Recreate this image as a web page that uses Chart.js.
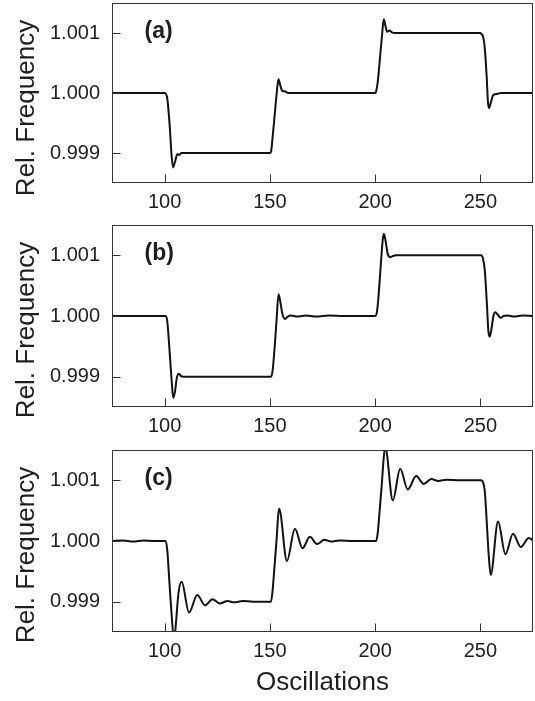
<!DOCTYPE html>
<html>
<head>
<meta charset="utf-8">
<script src="https://cdn.jsdelivr.net/npm/chart.js@4/dist/chart.umd.min.js"></script>
<style>
  html, body { margin: 0; padding: 0; background: #fff; width: 535px; height: 701px; overflow: hidden; }
  canvas { position: absolute; left: 0; }
</style>
</head>
<body>
<canvas id="ca" width="535" height="215" style="top:0px"></canvas>
<canvas id="cb" width="535" height="222" style="top:215px"></canvas>
<canvas id="cc" width="535" height="264" style="top:437px"></canvas>
<script>
// ---- data ----
const xTickLabels = ['100', '150', '200', '250'];
const yTickLabels = ['0.999', '1.000', '1.001'];
const panelLabels = ['(a)', '(b)', '(c)'];
const yTitle = 'Rel. Frequency';
const xTitle = 'Oscillations';

const xA = [75, 100, 100.5, 101.3, 102.4, 103.3, 104, 104.9, 106, 107, 108, 110, 150, 150.6, 151.4, 152.4, 153.4, 154.1, 155, 156, 157, 158.5, 160, 200, 200.5, 201.3, 202.3, 203.3, 204.1, 204.9, 205.7, 206.8, 208, 209.5, 250, 250.5, 251.2, 252, 253, 253.6, 254.1, 254.9, 256, 257.2, 258.5, 260, 275];
const yA = [1.0, 1.0, 0.99999, 0.9999, 0.99946, 0.99896, 0.99876, 0.99885, 0.99898, 0.99897, 0.999, 0.999, 0.999, 0.99903, 0.9993, 0.99968, 1.00005, 1.00023, 1.00012, 1.00003, 1.00003, 1.0, 1.0, 1.0, 1.00003, 1.0002, 1.00058, 1.00097, 1.00123, 1.00112, 1.00102, 1.00104, 1.00101, 1.001, 1.001, 1.00098, 1.00095, 1.00078, 1.00027, 0.99985, 0.99975, 0.99983, 0.99996, 0.99998, 0.99999, 1.0, 1.0];

const xB = [75, 100.5, 101.3, 102.4, 103.3, 104.1, 104.9, 105.8, 106.8, 107.8, 109, 150.5, 151.3, 152.3, 153.3, 154.1, 154.9, 155.9, 157.2, 158.5, 160, 163, 167, 172, 178, 185, 200.2, 201, 202, 203, 203.7, 204.2, 205, 206, 207.3, 208.5, 210, 250.3, 251.2, 252.1, 253.1, 253.8, 254.4, 255.2, 256.2, 257.1, 258.3, 259.7, 261, 263, 266, 270, 275];
const yB = [1.0, 1.0, 0.9999, 0.9994, 0.99895, 0.99865, 0.99875, 0.99898, 0.99905, 0.99901, 0.999, 0.999, 0.9991, 0.9995, 1.0, 1.00036, 1.00025, 1.00004, 0.99995, 0.99999, 1.00001, 0.99999, 1.00001, 0.99999, 1.00001, 1.0, 1.0, 1.0001, 1.0005, 1.001, 1.00128, 1.00135, 1.00123, 1.00102, 1.00097, 1.00099, 1.001, 1.001, 1.00095, 1.00075, 1.0002, 0.99975, 0.99966, 0.99977, 1.0, 1.00006, 1.00002, 0.99997, 1.0, 1.00001, 0.99999, 1.00001, 1.0];

const xC = [75, 80, 85, 90, 95, 100.5, 101.3, 102.4, 103.4, 104.5, 105.5, 106.6, 108.1, 111.6, 115.5, 119.2, 122.7, 126.2, 129.9, 133, 137, 142, 150.5, 151.2, 152.2, 153.2, 153.9, 154.4, 158.1, 161.9, 165.5, 169, 172.4, 175.9, 179, 183, 190, 200.5, 201.2, 202.2, 203.2, 204.1, 204.8, 208.4, 211.9, 215.5, 219.5, 223.1, 226.7, 230, 234, 240, 250.3, 251.2, 252.1, 253.1, 254, 254.9, 258.4, 261.9, 265.5, 269.2, 273, 275];
const yC = [1.0, 1.00001, 0.99999, 1.00001, 1.0, 1.0, 0.99983, 0.99925, 0.99875, 0.99835, 0.9987, 0.99915, 0.99933, 0.99882, 0.99911, 0.99894, 0.99904, 0.99897, 0.99901, 0.99899, 0.99901, 0.999, 0.999, 0.99915, 0.99958, 1.00003, 1.0004, 1.00053, 0.99967, 1.0002, 0.99988, 1.00007, 0.99995, 1.00002, 0.99999, 1.00001, 1.0, 1.0, 1.00012, 1.00052, 1.00095, 1.00138, 1.00155, 1.00067, 1.00119, 1.00085, 1.00107, 1.00094, 1.00102, 1.00099, 1.00101, 1.001, 1.001, 1.00097, 1.00082, 1.00027, 0.99975, 0.99944, 1.00032, 0.99978, 1.00012, 0.9999, 1.00005, 1.00001];

// ---- styling ----
const FONT = '"Liberation Sans", Arial, Helvetica, sans-serif';
const INK = '#1e1e1e';

function matchLabel(list, v) {
  const f = list.find(l => Math.abs(parseFloat(l) - v) < 1e-7);
  return f === undefined ? null : f;
}

const deco = {
  id: 'deco',
  afterDraw(chart, args, opts) {
    const { ctx, chartArea: a, scales: { x, y } } = chart;
    ctx.save();
    ctx.strokeStyle = '#333';
    ctx.lineWidth = 1;
    const L = Math.round(a.left) + 0.5, T = Math.round(a.top) + 0.5;
    const R = Math.round(a.right) - 0.5, B = Math.round(a.bottom) - 0.5;
    ctx.strokeRect(L, T, R - L, B - T);
    ctx.beginPath();
    x.ticks.forEach(t => {
      if (t.value <= x.min || t.value >= x.max) return;
      const px = Math.round(x.getPixelForValue(t.value)) + 0.5;
      const len = t.label ? 8 : 4;
      ctx.moveTo(px, B); ctx.lineTo(px, B - len);
    });
    y.ticks.forEach(t => {
      if (t.value <= y.min + 1e-9 || t.value >= y.max - 1e-9) return;
      const py = Math.round(y.getPixelForValue(t.value)) + 0.5;
      const len = t.label ? 8 : 4;
      ctx.moveTo(L, py); ctx.lineTo(L + len, py);
    });
    ctx.stroke();

    ctx.fillStyle = INK;
    ctx.textBaseline = 'alphabetic';
    ctx.textAlign = 'left';
    ctx.font = 'bold 23px ' + FONT;
    ctx.fillText(opts.label, a.left + 32.5, a.top + 34.5);

    ctx.font = '26px ' + FONT;
    ctx.save();
    ctx.translate(34, a.top + 105);
    ctx.rotate(-Math.PI / 2);
    ctx.textAlign = 'center';
    ctx.fillText(yTitle, 0, 0);
    ctx.restore();

    if (opts.showXTitle) {
      ctx.textAlign = 'center';
      ctx.fillText(xTitle, (a.left + a.right) / 2, a.bottom + 58);
    }
    ctx.restore();
  }
};

function makePanel(id, xs, ys, label, padTop, xAxisH, showXTitle) {
  const pts = xs.map((v, i) => ({ x: v, y: ys[i] }));
  return new Chart(document.getElementById(id), {
    type: 'line',
    data: {
      datasets: [{
        data: pts,
        borderColor: '#111',
        borderWidth: 2,
        pointRadius: 0,
        fill: false,
        cubicInterpolationMode: 'monotone',
        clip: 0
      }]
    },
    options: {
      responsive: false,
      animation: false,
      devicePixelRatio: 1,
      layout: { padding: { top: padTop, right: 2, left: 0, bottom: 0 } },
      plugins: {
        legend: { display: false },
        tooltip: { enabled: false },
        deco: { label: label, showXTitle: showXTitle }
      },
      scales: {
        x: {
          type: 'linear',
          min: 75, max: 275,
          grid: { display: false, drawTicks: false },
          border: { display: false },
          ticks: {
            stepSize: 25, autoSkip: false, maxRotation: 0, padding: 7,
            color: INK, font: { family: FONT, size: 20 },
            callback: v => matchLabel(xTickLabels, v)
          },
          afterFit: s => { s.height = xAxisH; s.paddingLeft = 0; s.paddingRight = 0; }
        },
        y: {
          type: 'linear',
          min: 0.9985, max: 1.0015,
          grid: { display: false, drawTicks: false },
          border: { display: false },
          ticks: {
            stepSize: 0.0005, autoSkip: false, padding: 12,
            color: INK, font: { family: FONT, size: 20 },
            callback: v => matchLabel(yTickLabels, v)
          },
          afterFit: s => { s.width = 112; s.paddingTop = 0; s.paddingBottom = 0; }
        }
      }
    },
    plugins: [deco]
  });
}

makePanel('ca', xA, yA, panelLabels[0], 3, 32, false);
makePanel('cb', xB, yB, panelLabels[1], 10, 30, false);
makePanel('cc', xC, yC, panelLabels[2], 13, 69, true);
</script>
</body>
</html>
